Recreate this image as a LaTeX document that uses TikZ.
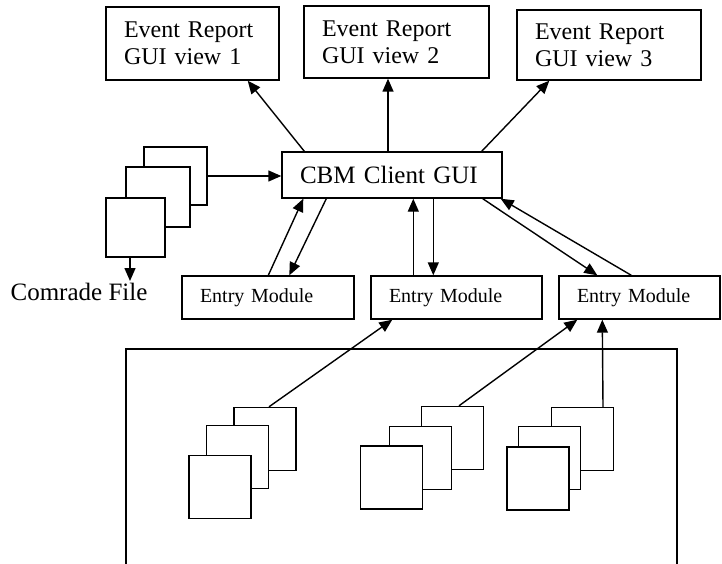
\documentclass[tikz,border=0pt]{standalone}
\usepackage{fontspec}
\setmainfont{Liberation Serif}
\usetikzlibrary{arrows.meta}

\begin{document}
\begin{tikzpicture}[x=1pt, y=-1pt, line width=1.4pt,
		box/.style = {draw, inner xsep=18pt, inner ysep=0pt, align=left},
		big/.style = {box, font=\fontsize{24}{27}\selectfont},
		entry/.style = {box, font=\fontsize{20}{24}\selectfont, minimum height=43},
		sheet/.style = {draw, fill=white, minimum width=62, minimum height=63, inner sep=0},
		arr/.style = {-{Triangle[length=13pt, width=11pt]}}]
				\useasboundingbox (0,0) rectangle (722,564);
				
				% report views
				\node[big, minimum height=73, text width=137] (er1) at (192.5,43.5) {Event Report\\GUI view 1};
				\node[big, minimum height=72, text width=149] (er2) at (396.5,42) {Event Report\\GUI view 2};
				\node[big, minimum height=70, text width=148] (er3) at (609,45) {Event Report\\GUI view 3};
				
				\node[box, font=\fontsize{25}{28}\selectfont, minimum height=46, text width=184] (cbm) at (392,175) {CBM Client GUI};
				
				\node[entry, text width=136] (em1) at (268,297.5) {Entry Module};
				\node[entry, text width=135] (em2) at (456.5,297.5) {Entry Module};
				\node[entry, text width=125] (em3) at (639.5,297.5) {Entry Module};
				
				% comrade file stack
				\node[sheet, minimum width=63, minimum height=58] (fb) at (175.5,176) {};
				\node[sheet, minimum width=64, minimum height=60] (fm) at (158,197) {};
				\node[sheet, minimum width=59, minimum height=59] (ff) at (135.5,227.5) {};
				\node[font=\fontsize{25}{28}\selectfont, inner sep=1pt] (comrade) at (79,291.5) {Comrade File};
				
				% data source
				\draw (126,564) -- (126,349) -- (677,349) -- (677,564);
				
				\node[sheet] (ab) at (265,439) {};
				\node[sheet] (am) at (237.5,457) {};
				\node[sheet] (af) at (220,487) {};
				
				\node[sheet] (bb) at (452.5,438) {};
				\node[sheet] (bm) at (420.5,458) {};
				\node[sheet] (bf) at (391.5,477.5) {};
				
				\node[sheet] (cb) at (582.5,439) {};
				\node[sheet] (cm) at (549.5,458) {};
				\node[sheet] (cf) at (538,478.5) {};
				
				\draw[arr] ([xshift=23]cbm.north west) -- ([xshift=-32]er1.south east);
				\draw[arr] ([xshift=-4]cbm.north) -- ([xshift=-4]cbm.north |- er2.south);
				\draw[arr] ([xshift=-21]cbm.north east) -- ([xshift=33]er3.south west);
				
				\draw[arr] (fb.east) -- (fb.east -| cbm.west);
				\draw[arr] ([xshift=-5.5]ff.south) -- ([xshift=-5.5]ff.south |- comrade.north);
				
				\draw[arr] ([xshift=87]em1.north west) -- ([xshift=22]cbm.south west);
				\draw[arr] ([xshift=45]cbm.south west) -- ([xshift=108]em1.north west);
				\draw[arr] ([xshift=43]em2.north west) -- ([xshift=132]cbm.south west);
				\draw[arr] ([xshift=152]cbm.south west) -- ([xshift=63]em2.north west);
				\draw[arr] ([xshift=-20]cbm.south east) -- ([xshift=39]em3.north west);
				\draw[arr] ([xshift=73]em3.north west) -- ([xshift=-2]cbm.south east);
				
				\draw[arr] ([xshift=4]ab.north) -- ([xshift=22]em2.south west);
				\draw[arr] ([xshift=6.5]bb.north) -- ([xshift=19]em3.south west);
				\draw[arr] ([xshift=20.5]cb.north) -- ([xshift=44]em3.south west);
			\end{tikzpicture}
\end{document}
